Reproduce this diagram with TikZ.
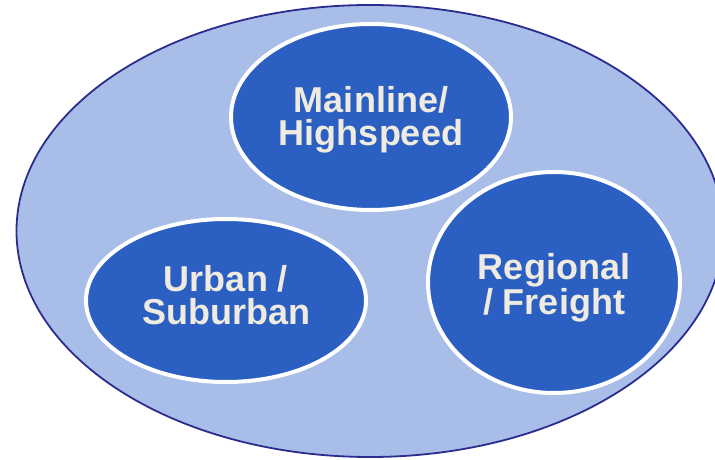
\documentclass[tikz,border=0pt]{standalone}
\usepackage{fontspec}
\setmainfont{Liberation Sans}
\usetikzlibrary{shapes.geometric}
\definecolor{outerfill}{HTML}{A8BEE9}
\definecolor{outerline}{HTML}{2B2C8E}
\definecolor{innerfill}{HTML}{2C5FC2}
\definecolor{txtcol}{HTML}{EFEBE1}
\tikzset{
  outerell/.style={ellipse, draw=outerline, line width=1.8bp, fill=outerfill, inner sep=0pt},
  innerell/.style={ellipse, draw=white, line width=4bp, fill=innerfill, inner sep=0pt,
    text=txtcol, align=center, font=\bfseries\fontsize{36bp}{33bp}\selectfont},
}
\begin{document}
\begin{tikzpicture}[x=1bp,y=-1bp]
\useasboundingbox (0,0) rectangle (715,460);
\node[outerell, minimum width=707bp, minimum height=452bp] (outer) at (370,231) {};
\node[innerell, minimum width=280bp, minimum height=186bp] (main) at (371,117) {\rule{0pt}{32bp}Mainline/\\Highspeed};
\node[innerell, minimum width=280bp, minimum height=163bp] (urban) at (226,300.5) {Urban /\\Suburban\rule[-12bp]{0pt}{12bp}};
\node[innerell, minimum width=252bp, minimum height=221bp] (regional) at (554,282.5) {\rule{0pt}{36bp}Regional\\/ Freight};
\end{tikzpicture}
\end{document}
